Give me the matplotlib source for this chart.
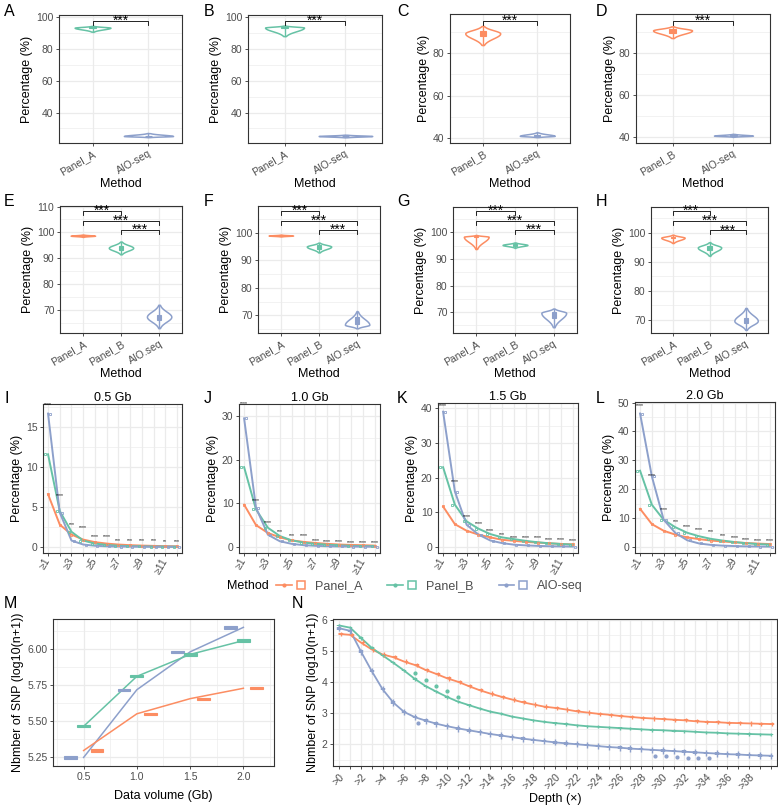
import numpy as np
import matplotlib
matplotlib.use("Agg")
import matplotlib.pyplot as plt
from matplotlib.patches import Rectangle
from matplotlib.lines import Line2D
from matplotlib.legend_handler import HandlerTuple
from matplotlib.ticker import MultipleLocator, FormatStrFormatter

plt.rcParams["font.family"] = ["Liberation Sans", "DejaVu Sans"]

ORANGE, GREEN, PURPLE = "#FC8D62", "#66C2A5", "#8DA0CB"

# ---------------- data: violin panels A-H ----------------
vio_methods = {
    "A": ["Panel_A", "AIO-seq"], "B": ["Panel_A", "AIO-seq"],
    "C": ["Panel_B", "AIO-seq"], "D": ["Panel_B", "AIO-seq"],
    "E": ["Panel_A", "Panel_B", "AIO.seq"], "F": ["Panel_A", "Panel_B", "AIO.seq"],
    "G": ["Panel_A", "Panel_B", "AIO.seq"], "H": ["Panel_A", "Panel_B", "AIO.seq"],
}
vio_lo = {"A": [91.0, 24.5], "B": [88.2, 24.4], "C": [84.0, 40.3], "D": [87.0, 40.1],
          "E": [98.3, 91.5, 62.9], "F": [98.6, 92.8, 65.3],
          "G": [93.8, 94.3, 64.3], "H": [96.5, 92.1, 66.5]}
vio_mid = {"A": [93.5, 25.2], "B": [93.6, 25.2], "C": [89.5, 40.9], "D": [90.6, 40.6],
           "E": [98.7, 94.0, 67.3], "F": [98.9, 94.9, 66.6],
           "G": [98.4, 95.3, 69.7], "H": [98.3, 94.9, 69.6]}
vio_hi = {"A": [94.6, 27.0], "B": [94.8, 26.0], "C": [93.0, 42.5], "D": [92.5, 41.4],
          "E": [99.1, 96.4, 71.9], "F": [99.2, 96.3, 71.4],
          "G": [99.0, 96.2, 71.3], "H": [99.3, 96.7, 74.0]}
vio_q1 = {"A": [93.2, 25.0], "B": [93.2, 25.0], "C": [88.2, 40.6], "D": [89.5, 40.4],
          "E": [98.6, 93.2, 66.0], "F": [98.8, 94.2, 66.8],
          "G": [98.2, 95.0, 67.8], "H": [98.1, 94.2, 68.8]}
vio_q3 = {"A": [93.8, 25.4], "B": [93.9, 25.4], "C": [90.6, 41.1], "D": [91.2, 40.8],
          "E": [98.8, 94.8, 68.0], "F": [99.0, 95.6, 69.4],
          "G": [98.6, 95.6, 70.0], "H": [98.6, 95.6, 70.6]}
sig_height = {"A": [97.9], "B": [97.9], "C": [95.4], "D": [95.2],
              "E": [108.2, 104.3, 100.9], "F": [107.8, 104.2, 100.9],
              "G": [108.1, 104.4, 101.0], "H": [107.5, 104.0, 100.8]}

# ---------------- data: depth distribution panels I-L ----------------
gb_titles = ["0.5 Gb", "1.0 Gb", "1.5 Gb", "2.0 Gb"]
depth_labels = ["≥%d" % d for d in range(1, 13)]
pct_panel_a = {
    "0.5 Gb": [6.6, 2.8, 1.55, 0.92, 0.6, 0.42, 0.3, 0.22, 0.17, 0.13, 0.1, 0.08],
    "1.0 Gb": [9.7, 5.0, 3.2, 2.2, 1.5, 1.15, 0.9, 0.7, 0.55, 0.45, 0.38, 0.3],
    "1.5 Gb": [11.7, 6.6, 4.7, 3.6, 2.8, 2.1, 1.8, 1.5, 1.3, 1.1, 0.9, 0.8],
    "2.0 Gb": [13.2, 7.9, 5.6, 4.25, 3.3, 2.7, 2.2, 1.9, 1.6, 1.35, 1.15, 1.0],
}
pct_panel_b = {
    "0.5 Gb": [11.6, 4.5, 1.9, 0.8, 0.42, 0.25, 0.15, 0.1, 0.07, 0.05, 0.04, 0.03],
    "1.0 Gb": [18.3, 8.6, 4.4, 2.5, 1.5, 1.0, 0.7, 0.5, 0.35, 0.25, 0.2, 0.15],
    "1.5 Gb": [23.0, 12.2, 7.4, 5.3, 3.75, 2.8, 2.3, 1.8, 1.4, 1.1, 0.9, 0.7],
    "2.0 Gb": [26.4, 14.6, 9.4, 6.8, 4.9, 3.7, 2.8, 2.2, 1.7, 1.3, 1.0, 0.8],
}
pct_aio = {
    "0.5 Gb": [16.7, 4.3, 0.8, 0.3, 0.15, 0.08, 0.05, 0.04, 0.03, 0.03, 0.02, 0.02],
    "1.0 Gb": [29.5, 9.0, 2.8, 1.3, 0.7, 0.4, 0.25, 0.15, 0.1, 0.08, 0.06, 0.05],
    "1.5 Gb": [39.0, 16.0, 6.4, 3.6, 1.9, 1.15, 0.7, 0.5, 0.35, 0.25, 0.2, 0.15],
    "2.0 Gb": [46.2, 24.4, 9.4, 4.8, 2.3, 1.2, 0.7, 0.45, 0.3, 0.2, 0.15, 0.1],
}
pct_sig = {
    "0.5 Gb": ["****", "****", "***", "****", "****", "****", "***", "***", "***", "***", "**", "***"],
    "1.0 Gb": ["****", "****", "****", "***", "***", "****", "****", "****", "****", "****", "****", "****"],
    "1.5 Gb": ["****", "****", "****", "****", "****", "***", "****", "****", "****", "****", "****", "****"],
    "2.0 Gb": ["****", "****", "****", "***", "****", "****", "***", "***", "****", "****", "****", "****"],
}
pct_sig_y = {
    "0.5 Gb": [17.8, 6.4, 2.8, 2.4, 1.3, 1.3, 0.83, 0.83, 0.75, 0.75, 0.63, 0.63],
    "1.0 Gb": [32.8, 10.7, 5.7, 3.6, 2.7, 2.7, 1.5, 1.3, 1.3, 1.1, 1.1, 0.9],
    "1.5 Gb": [40.8, 18.8, 8.8, 6.7, 4.8, 3.5, 2.8, 2.8, 2.8, 2.3, 2.1, 1.9],
    "2.0 Gb": [49.1, 24.9, 12.9, 8.8, 6.9, 6.0, 5.2, 4.0, 3.1, 2.5, 2.2, 2.2],
}

# ---------------- data: panel M ----------------
volume_gb = [0.5, 1.0, 1.5, 2.0]
snp_vol_a = [5.295, 5.55, 5.655, 5.727]
snp_vol_b = [5.463, 5.81, 5.962, 6.058]
snp_vol_aio = [5.247, 5.717, 5.98, 6.15]

# ---------------- data: panel N ----------------
depth_n = list(range(0, 41))
snp_depth_a = [5.55, 5.52, 5.27, 5.05, 4.89, 4.80, 4.66, 4.55, 4.39, 4.26, 4.12, 4.01, 3.87, 3.74,
               3.63, 3.53, 3.44, 3.35, 3.28, 3.21, 3.17, 3.12, 3.06, 3.02, 2.98, 2.95, 2.91, 2.88,
               2.85, 2.83, 2.81, 2.79, 2.77, 2.74, 2.72, 2.71, 2.69, 2.68, 2.67, 2.66, 2.65]
snp_depth_b = [5.82, 5.75, 5.42, 5.10, 4.86, 4.62, 4.37, 4.10, 3.87, 3.69, 3.52, 3.37, 3.26, 3.15,
               3.05, 2.98, 2.89, 2.83, 2.77, 2.72, 2.68, 2.65, 2.61, 2.58, 2.56, 2.54, 2.52, 2.50,
               2.48, 2.46, 2.45, 2.43, 2.42, 2.40, 2.38, 2.37, 2.35, 2.34, 2.33, 2.32, 2.31]
snp_depth_aio = [5.73, 5.65, 4.98, 4.35, 3.77, 3.34, 3.04, 2.87, 2.76, 2.66, 2.58, 2.51, 2.45, 2.39,
                 2.33, 2.28, 2.23, 2.18, 2.14, 2.10, 2.06, 2.03, 2.00, 1.97, 1.94, 1.91, 1.89, 1.86,
                 1.84, 1.82, 1.80, 1.78, 1.76, 1.74, 1.72, 1.70, 1.68, 1.67, 1.65, 1.64, 1.63]
out_b_depth = [7, 8, 9, 10, 11]
out_b_snp = [4.30, 4.06, 3.88, 3.72, 3.53]
out_aio_depth = [7, 29, 30, 31, 32, 33, 34]
out_aio_snp = [2.69, 1.63, 1.62, 1.58, 1.57, 1.56, 1.55]

# ---------------- layout ----------------
W, H = 778, 807
TICK_FS = 7.5
LAB_FS = 9
fig = plt.figure(figsize=(W / 100, H / 100), dpi=100)


def add_ax(l, t, r, b):
    return fig.add_axes([l / W, 1 - b / H, (r - l) / W, (b - t) / H])


def style(ax):
    ax.set_axisbelow(True)
    for sp in ax.spines.values():
        sp.set_color("#333333")
        sp.set_linewidth(0.8)
    ax.tick_params(which="major", colors="#333333", labelcolor="#4D4D4D", labelsize=TICK_FS,
                   length=2.5, width=0.6, pad=1.5)
    ax.tick_params(which="minor", length=0)


def grids(ax, xminor=False):
    ax.grid(True, which="major", color="#EBEBEB", lw=0.9)
    ax.grid(True, which="minor", axis="y", color="#EBEBEB", lw=0.45)
    if xminor:
        ax.grid(True, which="minor", axis="x", color="#EBEBEB", lw=0.45)


def letter(x, y, s):
    fig.text(x / W, 1 - y / H, s, fontsize=11.5, ha="left", va="center")


vio_boxes = {
    "A": (59, 15, 182, 143), "B": (248, 15, 382, 143),
    "C": (450, 14, 570, 143), "D": (636, 14, 770, 143),
    "E": (60, 206, 182, 333), "F": (258, 206, 380, 333),
    "G": (453, 207, 577, 333), "H": (651, 207, 768, 333),
}
vio_ylim = {"A": (20.8, 101.5), "B": (20.8, 101.5), "C": (37.5, 98.7), "D": (37.1, 98.4),
            "E": (61.0, 110.2), "F": (63.6, 109.6), "G": (62.1, 109.6), "H": (65.4, 108.9)}
letter_pos = {"A": (4, 11), "B": (204, 11), "C": (397, 11), "D": (596, 11),
              "E": (4, 202), "F": (204, 202), "G": (397, 202), "H": (596, 202),
              "I": (4, 399), "J": (204, 399), "K": (397, 399), "L": (596, 399),
              "M": (4, 604), "N": (292, 604)}


def violin(ax, x, lo, mid, hi, q1, q3, hw, color):
    ys = np.linspace(lo, hi, 150)
    s_lo = max(mid - lo, 1e-6) / 2.3
    s_hi = max(hi - mid, 1e-6) / 2.3
    s = np.where(ys < mid, s_lo, s_hi)
    w = hw * np.exp(-0.5 * ((ys - mid) / s) ** 2)
    ax.fill_betweenx(ys, x - w, x + w, facecolor="white", edgecolor=color, lw=1.1, zorder=2)
    ax.plot([x, x], [lo, hi], color=color, lw=1.0, zorder=3)
    ax.add_patch(Rectangle((x - 0.055, q1), 0.11, q3 - q1, facecolor=color,
                           edgecolor=color, lw=0.8, zorder=3))


for key, box in vio_boxes.items():
    ax = add_ax(*box)
    methods = vio_methods[key]
    n = len(methods)
    if key in "AB":
        cols = [GREEN, PURPLE]
    elif key in "CD":
        cols = [ORANGE, PURPLE]
    else:
        cols = [ORANGE, GREEN, PURPLE]
    pos = np.arange(1, n + 1)
    for i in range(n):
        hw = 0.44 if (key in "AB" and i == 1) else 0.32
        violin(ax, pos[i], vio_lo[key][i], vio_mid[key][i], vio_hi[key][i],
               vio_q1[key][i], vio_q3[key][i], hw, cols[i])
    y0, y1 = vio_ylim[key]
    ax.set_ylim(y0, y1)
    ax.set_xlim(0.4, n + 0.6)
    tip = 0.03 * (y1 - y0)
    pairs = [(1, 2)] if n == 2 else [(1, 2), (1, 3), (2, 3)]
    for (a, b), yb in zip(pairs, sig_height[key]):
        ax.plot([a, a, b, b], [yb - tip, yb, yb, yb - tip], color="black", lw=0.6,
                clip_on=False, zorder=4)
        ax.text((a + b) / 2, yb, "***", ha="center", va="center",
                fontsize=10, clip_on=False, zorder=5)
    if n == 2:
        ax.yaxis.set_major_locator(MultipleLocator(20))
    else:
        ax.yaxis.set_major_locator(MultipleLocator(10))
    style(ax)
    ax.yaxis.set_minor_locator(MultipleLocator(10) if n == 2 else MultipleLocator(5))
    grids(ax)
    ax.set_xticks(pos)
    ax.set_xticklabels(methods, rotation=30, ha="right", va="top", rotation_mode="anchor")
    ax.set_xlabel("Method", fontsize=LAB_FS, labelpad=1)
    ax.set_ylabel("Percentage (%)", fontsize=LAB_FS, labelpad=2)
    letter(*letter_pos[key], key)

# ---------------- I-L ----------------
depth_boxes = [(43, 404, 182, 553), (239, 404, 380, 553), (438, 403, 578, 553), (635, 402, 775, 553)]
depth_ylim = [(-0.76, 17.9), (-1.4, 32.8), (-1.7, 41.5), (-2.1, 50.2)]
depth_step = [5, 10, 10, 10]
cats = np.arange(1, 13)
for k, (title, box) in enumerate(zip(gb_titles, depth_boxes)):
    ax = add_ax(*box)
    for vals, c, dx in [(pct_panel_a[title], ORANGE, 0.0), (pct_panel_b[title], GREEN, -0.25),
                        (pct_aio[title], PURPLE, 0.2)]:
        ax.plot(cats, vals, color=c, lw=1.4, zorder=3)
        ax.plot(cats + dx, vals, ls="none", marker="s", ms=1.7, mfc="none", mec=c,
                mew=0.6, zorder=4)
    for i in range(12):
        ax.text(cats[i], pct_sig_y[title][i], pct_sig[title][i], ha="center", va="center",
                fontsize=3.6, zorder=5)
    ax.set_xlim(0.57, 12.43)
    ax.set_ylim(*depth_ylim[k])
    ax.yaxis.set_major_locator(MultipleLocator(depth_step[k]))
    style(ax)
    ax.yaxis.set_minor_locator(MultipleLocator(depth_step[k] / 2))
    grids(ax)
    ax.set_xticks(cats)
    ax.set_xticklabels([lab if i % 2 == 0 else "" for i, lab in enumerate(depth_labels)],
                       rotation=60, ha="right", va="center", rotation_mode="anchor")
    ax.set_ylabel("Percentage (%)", fontsize=LAB_FS, labelpad=2)
    ax.set_title(title, fontsize=LAB_FS, pad=2)
    letter(*letter_pos["IJKL"[k]], "IJKL"[k])

# legend
fig.text(227 / W, 1 - 586 / H, "Method", fontsize=LAB_FS, ha="left", va="center")
handles = []
for c in [ORANGE, GREEN, PURPLE]:
    handles.append((Line2D([], [], color=c, lw=1.2, marker=".", ms=4),
                    Line2D([], [], color=c, ls="none", marker="s", ms=6, mfc="none", mew=1.1)))
fig.legend(handles, ["Panel_A", "Panel_B", "AIO-seq"], loc="center left",
           bbox_to_anchor=(276 / W, 1 - 586 / H), ncol=3, frameon=False, fontsize=LAB_FS,
           handler_map={tuple: HandlerTuple(ndivide=None, pad=0.1)}, handlelength=2.6,
           columnspacing=2.0, handletextpad=0.5, labelcolor="#4D4D4D",
           borderpad=0, borderaxespad=0)

# ---------------- M ----------------
ax = add_ax(53, 619, 274, 766)
vol = np.array(volume_gb)
for vals, c, dx in [(snp_vol_aio, PURPLE, -0.12), (snp_vol_b, GREEN, 0.0), (snp_vol_a, ORANGE, 0.125)]:
    ax.plot(vol, vals, color=c, lw=1.1, zorder=3)
    for xv, yv in zip(vol + dx, vals):
        ax.add_patch(Rectangle((xv - 0.06, yv - 0.008), 0.12, 0.016, facecolor=c,
                               edgecolor=c, lw=0.8, zorder=4))
ax.set_xlim(0.2125, 2.2875)
ax.set_ylim(5.1875, 6.208)
ax.xaxis.set_major_locator(MultipleLocator(0.5))
ax.yaxis.set_major_locator(MultipleLocator(0.25))
style(ax)
ax.xaxis.set_minor_locator(MultipleLocator(0.25))
ax.yaxis.set_minor_locator(MultipleLocator(0.125))
grids(ax, xminor=True)
ax.xaxis.set_major_formatter(FormatStrFormatter("%.1f"))
ax.yaxis.set_major_formatter(FormatStrFormatter("%.2f"))
ax.set_xlabel("Data volume (Gb)", fontsize=LAB_FS, labelpad=6)
ax.set_ylabel("Nbmber of SNP (log10(n+1))", fontsize=LAB_FS, labelpad=2)
letter(*letter_pos["M"], "M")

# ---------------- N ----------------
ax = add_ax(333, 619, 777, 766)
dn = np.array(depth_n)
for vals, c, dx, sp in [(snp_depth_a, ORANGE, 0.15, 0.07), (snp_depth_b, GREEN, 0.0, 0.05),
                        (snp_depth_aio, PURPLE, 0.0, 0.1)]:
    ax.plot(dn, vals, color=c, lw=1.3, zorder=3)
    vals = np.array(vals)
    ax.vlines(dn + dx, vals - sp, vals + sp, color=c, lw=1.0, zorder=4)
    ax.vlines(dn + dx, vals - sp / 2.5, vals + sp / 2.5, color=c, lw=3.2, zorder=4)
ax.plot(out_b_depth, out_b_snp, ls="none", marker="o", ms=2, color=GREEN, zorder=4)
ax.plot(np.array(out_aio_depth) + 0.3, out_aio_snp, ls="none", marker="o", ms=2,
        color=PURPLE, zorder=4)
ax.set_xlim(-0.6, 40.6)
ax.set_ylim(1.30, 6.03)
ax.yaxis.set_major_locator(MultipleLocator(1))
style(ax)
ax.yaxis.set_minor_locator(MultipleLocator(0.5))
grids(ax)
ax.set_xticks(dn)
ax.set_xticklabels([">%d" % d if d % 2 == 0 and d < 40 else "" for d in depth_n],
                   rotation=45, ha="right", va="top", rotation_mode="anchor")
ax.set_xlabel("Depth (×)", fontsize=LAB_FS, labelpad=1)
ax.set_ylabel("Nbmber of SNP (log10(n+1))", fontsize=LAB_FS, labelpad=2)
letter(*letter_pos["N"], "N")

fig.savefig("out.png", dpi=100)
